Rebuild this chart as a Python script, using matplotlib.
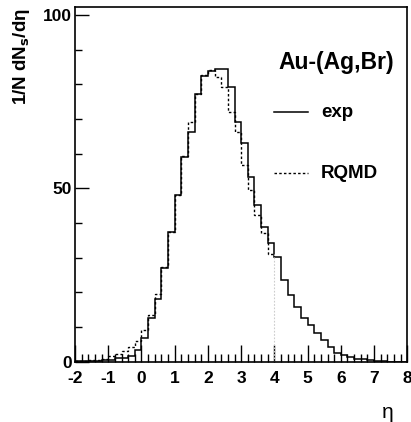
import numpy as np
import matplotlib
matplotlib.use("Agg")
import matplotlib.pyplot as plt
from matplotlib.ticker import MultipleLocator

# eta bin edges (width 0.2)
eta_edges = np.round(np.arange(-2.0, 8.0001, 0.2), 2)

# experimental distribution, 50 bins from -2 to 8
exp_vals = [0.1, 0.2, 0.2, 0.3, 0.4, 0.6, 1.0, 1.1, 1.6, 3.4,
            6.9, 12.6, 18.0, 27.1, 37.3, 48.1, 59.0, 66.1, 77.1, 82.5,
            83.8, 84.5, 84.5, 79.2, 69.1, 63.2, 53.2, 45.1, 38.7, 34.1,
            30.1, 23.7, 19.1, 15.8, 12.7, 10.5, 8.3, 6.3, 4.3, 2.5,
            1.8, 1.4, 0.9, 0.7, 0.5, 0.2, 0.1, 0.05, 0.05, 0.0]

# RQMD distribution, 30 bins from -2 to 4
rqmd_vals = [0.2, 0.3, 0.4, 0.6, 0.9, 1.5, 2.2, 3.0, 4.3, 6.0,
             9.0, 13.5, 19.6, 27.4, 37.5, 48.2, 59.4, 69.2, 77.1, 82.6,
             84.0, 82.1, 79.2, 72.0, 66.3, 56.6, 49.5, 42.4, 37.0, 31.1]
rqmd_edges = eta_edges[:len(rqmd_vals) + 1]

x_ticks = list(range(-2, 9))
y_ticks = [0, 50, 100]

title_text = "Au-(Ag,Br)"
legend_labels = ["exp", "RQMD"]

plt.rcParams['font.family'] = ['Liberation Sans', 'DejaVu Sans']

fig = plt.figure(figsize=(4.11, 4.22), dpi=100)
ax = fig.add_axes([75/411, 1 - 361.7/422, (407.3-75)/411, (361.7-7.3)/422])

ax.stairs(exp_vals, eta_edges, color='black', lw=1.1, baseline=None)
ax.stairs(rqmd_vals, rqmd_edges, color='black', lw=1.0,
          linestyle=(0, (1.8, 1.6)), baseline=None)
ax.vlines(rqmd_edges[-1], 0, rqmd_vals[-1], color='#cccccc', lw=0.8,
          linestyle=(0, (1.5, 1.5)))

ax.set_xlim(-2, 8)
ax.set_ylim(0, 102.2)

ax.set_xticks(x_ticks)
ax.set_xticklabels([str(t) for t in x_ticks], fontweight='bold', fontsize=12.5)
ax.set_yticks(y_ticks)
ax.set_yticklabels([str(t) for t in y_ticks], fontweight='bold', fontsize=12.5)
ax.xaxis.set_minor_locator(MultipleLocator(0.2))
ax.yaxis.set_minor_locator(MultipleLocator(10))

ax.tick_params(axis='x', which='major', direction='in', length=12, width=1.0,
               top=False, pad=7)
ax.tick_params(axis='x', which='minor', direction='in', length=6, width=1.0, top=False)
ax.tick_params(axis='y', which='major', direction='in', length=10, width=1.0,
               right=False, pad=2)
ax.tick_params(axis='y', which='minor', direction='in', length=5, width=1.0, right=False)

for s in ax.spines.values():
    s.set_linewidth(1.2)

# y label
fig.text(21/411, 1 - 8/422, "1/N dN$_{\\mathbf{s}}$/d\u03b7", rotation=90,
         ha='center', va='top', fontsize=13.5, fontweight='bold')
# x label
fig.text(388/411, 1 - 412/422, "\u03b7", ha='center', va='center', fontsize=15)

# title text
ax.text(7.6, 86.4, title_text, ha='right', va='center',
        fontsize=16.5, fontweight='bold')

# legend
ax.plot([4.0, 5.0], [72.0, 72.0], color='black', lw=1.1)
ax.plot([4.0, 5.0], [54.4, 54.4], color='black', lw=1.0, linestyle=(0, (1.8, 1.6)))
ax.text(5.4, 72.0, legend_labels[0], ha='left', va='center', fontsize=13.5, fontweight='bold')
ax.text(5.4, 54.4, legend_labels[1], ha='left', va='center', fontsize=13.5, fontweight='bold')

fig.savefig("out.png", dpi=100)
